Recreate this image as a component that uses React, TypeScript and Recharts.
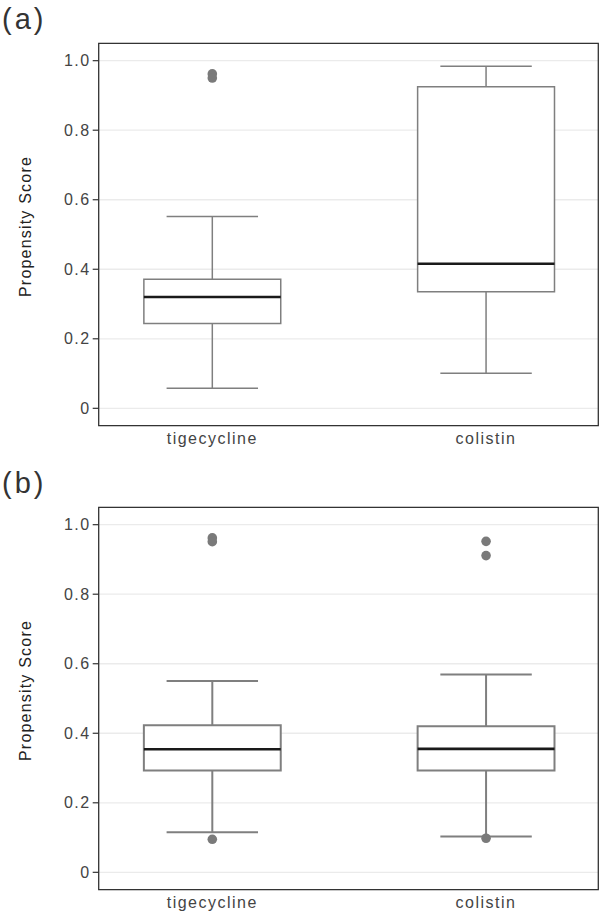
import {
  ComposedChart,
  Scatter,
  XAxis,
  YAxis,
  CartesianGrid,
  ReferenceArea,
  ReferenceLine,
} from "recharts";

const categories = ["tigecycline", "colistin"];
const yTicks = [0, 0.2, 0.4, 0.6, 0.8, 1.0];

// panel (a)
const aLow = [0.058, 0.101];
const aQ1 = [0.244, 0.335];
const aMedian = [0.32, 0.416];
const aQ3 = [0.371, 0.925];
const aHigh = [0.552, 0.984];
const aOutliers = [[0.962, 0.95], []];

// panel (b)
const bLow = [0.115, 0.103];
const bQ1 = [0.293, 0.293];
const bMedian = [0.354, 0.355];
const bQ3 = [0.423, 0.42];
const bHigh = [0.55, 0.569];
const bOutliers = [
  [0.962, 0.951, 0.095],
  [0.952, 0.911, 0.098],
];

const X_DOMAIN = [0.585, 2.41];
const Y_DOMAIN = [-0.05, 1.05];
const BOX_HALF = 0.25;
const CAP_HALF = 0.167;
const FONT = '"Liberation Sans", Arial, Helvetica, sans-serif';
const BOX_COLOR = "#7f7f7f";

type PanelProps = {
  tag: string;
  low: number[];
  q1: number[];
  median: number[];
  q3: number[];
  high: number[];
  outliers: number[][];
  lineW: number;
};

function BoxPanel({ tag, low, q1, median, q3, high, outliers, lineW }: PanelProps) {
  const points = outliers.flatMap((vals, i) => vals.map((v) => ({ x: i + 1, y: v })));
  return (
    <div style={{ position: "relative", width: 600, height: 464 }}>
      <svg width={80} height={40} style={{ position: "absolute", left: 0, top: 0 }}>
        <text x={2} y={29} fontSize={29} fill="#333" fontFamily={FONT} letterSpacing={3}>
          {tag}
        </text>
      </svg>
      <ComposedChart width={600} height={464} margin={{ top: 43.3, right: 1.7, bottom: 0, left: 0 }}>
        <CartesianGrid vertical={false} stroke="#ebebeb" strokeWidth={1.3} />
        <XAxis
          type="number"
          dataKey="x"
          domain={X_DOMAIN}
          allowDataOverflow
          ticks={[1, 2]}
          interval={0}
          tickFormatter={(v) => categories[v - 1]}
          axisLine={false}
          tickLine={false}
          tickSize={0}
          tickMargin={7}
          height={38.3}
          tick={{ fontSize: 16, fill: "#444", fontFamily: FONT, letterSpacing: 1.5 }}
        />
        <YAxis
          type="number"
          dataKey="y"
          domain={Y_DOMAIN}
          allowDataOverflow
          ticks={yTicks}
          interval={0}
          tickFormatter={(v) => (v === 0 ? "0" : v.toFixed(1))}
          axisLine={false}
          tickLine={{ stroke: "#333", strokeWidth: 1.2 }}
          tickSize={6}
          tickMargin={2}
          width={98.7}
          tick={{ fontSize: 16, fill: "#444", fontFamily: FONT, letterSpacing: 1.5 }}
          label={{
            value: "Propensity Score",
            angle: -90,
            position: "center",
            dx: -24,
            dy: -8,
            style: { fontSize: 16, fill: "#222", fontFamily: FONT, letterSpacing: 1.2 },
          }}
        />
        {categories.map((c, i) => (
          <ReferenceLine
            key={"wu" + c}
            segment={[
              { x: i + 1, y: q3[i] },
              { x: i + 1, y: high[i] },
            ]}
            stroke={BOX_COLOR}
            strokeWidth={lineW}
          />
        ))}
        {categories.map((c, i) => (
          <ReferenceLine
            key={"wl" + c}
            segment={[
              { x: i + 1, y: low[i] },
              { x: i + 1, y: q1[i] },
            ]}
            stroke={BOX_COLOR}
            strokeWidth={lineW}
          />
        ))}
        {categories.map((c, i) => (
          <ReferenceLine
            key={"ch" + c}
            segment={[
              { x: i + 1 - CAP_HALF, y: high[i] },
              { x: i + 1 + CAP_HALF, y: high[i] },
            ]}
            stroke={BOX_COLOR}
            strokeWidth={lineW}
          />
        ))}
        {categories.map((c, i) => (
          <ReferenceLine
            key={"cl" + c}
            segment={[
              { x: i + 1 - CAP_HALF, y: low[i] },
              { x: i + 1 + CAP_HALF, y: low[i] },
            ]}
            stroke={BOX_COLOR}
            strokeWidth={lineW}
          />
        ))}
        {categories.map((c, i) => (
          <ReferenceArea
            key={"box" + c}
            x1={i + 1 - BOX_HALF}
            x2={i + 1 + BOX_HALF}
            y1={q1[i]}
            y2={q3[i]}
            fill="#ffffff"
            fillOpacity={1}
            stroke={BOX_COLOR}
            strokeWidth={lineW}
          />
        ))}
        {categories.map((c, i) => (
          <ReferenceLine
            key={"med" + c}
            segment={[
              { x: i + 1 - BOX_HALF, y: median[i] },
              { x: i + 1 + BOX_HALF, y: median[i] },
            ]}
            stroke="#1a1a1a"
            strokeWidth={2.6}
          />
        ))}
        <Scatter
          data={points}
          isAnimationActive={false}
          fill={BOX_COLOR}
          shape={(p: any) => <circle cx={p.cx} cy={p.cy} r={4.8} fill="#7a7a7a" />}
        />
        <ReferenceArea
          x1={X_DOMAIN[0]}
          x2={X_DOMAIN[1]}
          y1={Y_DOMAIN[0]}
          y2={Y_DOMAIN[1]}
          fill="none"
          stroke="#333"
          strokeWidth={1.3}
          ifOverflow="visible"
        />
      </ComposedChart>
    </div>
  );
}

export default function App() {
  return (
    <div
      style={{
        position: "absolute",
        left: 0,
        top: 0,
        width: 600,
        height: 913,
        overflow: "hidden",
        background: "#fff",
      }}
    >
      <BoxPanel tag="(a)" low={aLow} q1={aQ1} median={aMedian} q3={aQ3} high={aHigh} outliers={aOutliers} lineW={1.5} />
      <BoxPanel tag="(b)" low={bLow} q1={bQ1} median={bMedian} q3={bQ3} high={bHigh} outliers={bOutliers} lineW={2} />
    </div>
  );
}
